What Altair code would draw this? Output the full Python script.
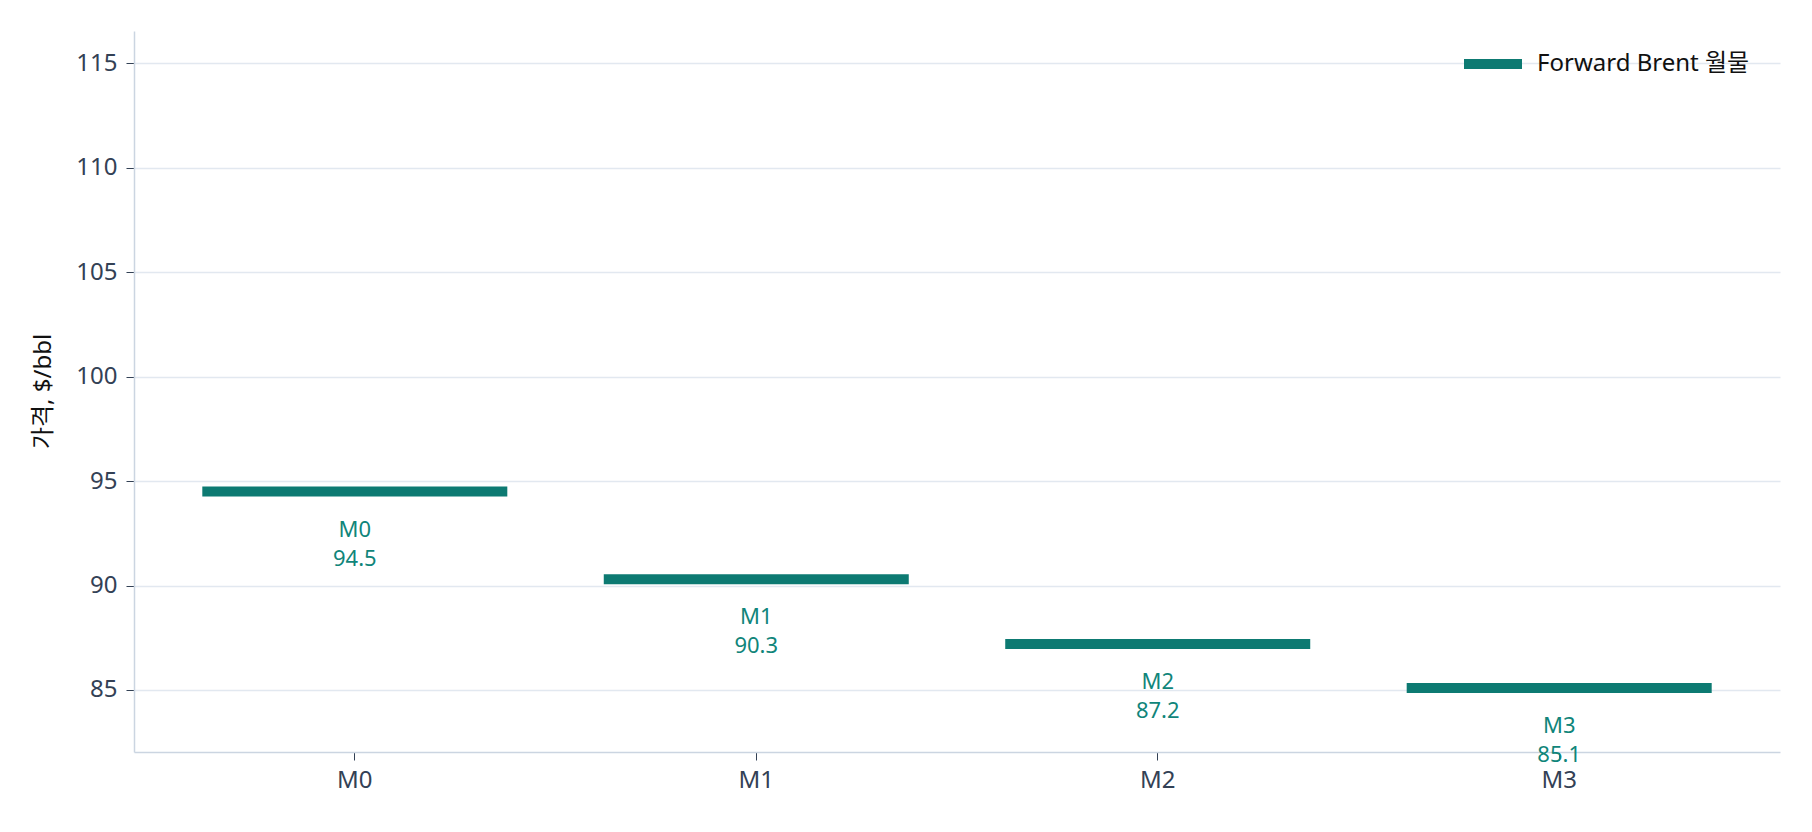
import altair as alt
import pandas as pd

contracts = ["M0", "M1", "M2", "M3"]
prices = [94.5, 90.3, 87.2, 85.1]
series_name = "Forward Brent 월물"
y_ticks = [85, 90, 95, 100, 105, 110, 115]

TEAL = "#0d7a72"
FONT = "Noto Sans, Noto Sans CJK KR, sans-serif"

df = pd.DataFrame({
    "contract": contracts,
    "price": prices,
    "series": [series_name] * len(contracts),
    "label": [f"{c}\n{p:.1f}" for c, p in zip(contracts, prices)],
})

x_enc = alt.X(
    "contract:N",
    sort=contracts,
    scale=alt.Scale(paddingInner=0.24, paddingOuter=0.17),
    axis=alt.Axis(
        title=None, labelAngle=0, labelFontSize=24, labelColor="#334155",
        labelFont=FONT, tickSize=8, tickColor="#334155", labelPadding=8,
        domainColor="#cbd5e1", domainWidth=1.5, grid=False,
    ),
)
y_enc = alt.Y(
    "price:Q",
    scale=alt.Scale(domain=[82.03, 116.55], nice=False, zero=False),
    axis=alt.Axis(
        title="가격, $/bbl", values=y_ticks, labelFontSize=24, labelColor="#334155",
        labelFont=FONT, tickSize=8, tickColor="#334155", labelPadding=9,
        domainColor="#cbd5e1", domainWidth=1.5, gridColor="#e2e8f0", gridWidth=1.5,
        titleFont=FONT, titleFontSize=24, titleFontWeight="normal", titleColor="#111111",
        titleX=-91, titleY=360, titleBaseline="middle",
    ),
)

ticks = alt.Chart(df).mark_tick(size=305, thickness=10, opacity=1).encode(
    x=x_enc,
    y=y_enc,
    color=alt.Color(
        "series:N",
        scale=alt.Scale(range=[TEAL]),
        legend=alt.Legend(
            title=None, orient="none", legendX=1325, legendY=-1,
            symbolType="stroke", symbolSize=3364, symbolStrokeWidth=10,
            symbolStrokeColor=TEAL, labelFontSize=24, labelFont=FONT,
            labelColor="#111111", labelOffset=10, padding=0, labelLimit=400,
        ),
    ),
)

labels = alt.Chart(df).mark_text(
    baseline="top", dy=28, fontSize=22, font=FONT, color="#10857a",
    lineBreak="\n", lineHeight=29, align="center",
).encode(
    x=alt.X("contract:N", sort=contracts),
    y=alt.Y("price:Q"),
    text="label:N",
)

chart = alt.layer(ticks, labels).properties(
    width=1646, height=721,
    autosize=alt.AutoSizeParams(type="none"),
    padding={"left": 134, "top": 31, "right": 32, "bottom": 80},
    background="white",
).configure_view(stroke=None)

chart.save("out.html", embed_options={"renderer": "svg", "actions": False})
